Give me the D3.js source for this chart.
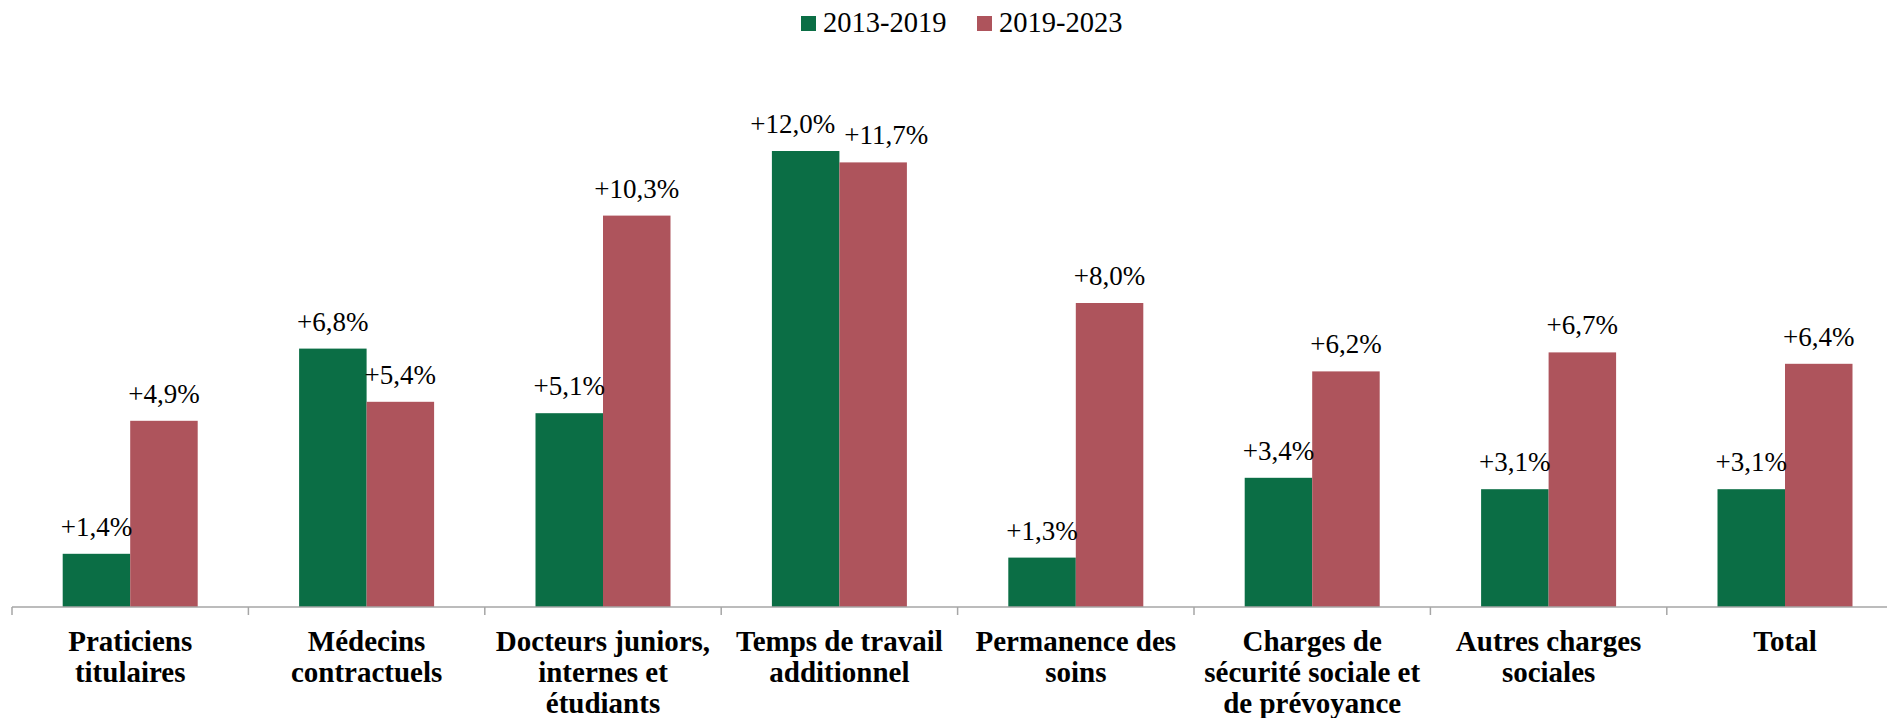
<!DOCTYPE html>
<html>
<head>
<meta charset="utf-8">
<script src="https://cdn.jsdelivr.net/npm/d3@7"></script>
<style>
  body { margin: 0; background: #fff; }
  svg text { font-family: "Liberation Serif", "DejaVu Serif", serif; fill: #000; }
  .cat { font-weight: bold; font-size: 29px; }
  .val { font-size: 27px; }
  .leg { font-size: 28.5px; }
</style>
</head>
<body>
<div id="chart"></div>
<script>
// data
var categories = [
    'Praticiens titulaires',
    'Médecins contractuels',
    'Docteurs juniors, internes et étudiants',
    'Temps de travail additionnel',
    'Permanence des soins',
    'Charges de sécurité sociale et de prévoyance',
    'Autres charges sociales',
    'Total'
];
var catLines = [
    ['Praticiens', 'titulaires'],
    ['Médecins', 'contractuels'],
    ['Docteurs juniors,', 'internes et', 'étudiants'],
    ['Temps de travail', 'additionnel'],
    ['Permanence des', 'soins'],
    ['Charges de', 'sécurité sociale et', 'de prévoyance'],
    ['Autres charges', 'sociales'],
    ['Total']
];
var seriesNames = ['2013-2019', '2019-2023'];
var v2013_2019 = [1.4, 6.8, 5.1, 12.0, 1.3, 3.4, 3.1, 3.1];
var v2019_2023 = [4.9, 5.4, 10.3, 11.7, 8.0, 6.2, 6.7, 6.4];
var colors = ['#0b6e45', '#ae545c'];

var width = 1887, height = 718;
var base = 607, left = 12;

var rows = categories.map(function (c, i) {
    return { cat: c, lines: catLines[i], vals: [v2013_2019[i], v2019_2023[i]] };
});

var svg = d3.select('#chart').append('svg')
    .attr('width', width)
    .attr('height', height);

var x0 = d3.scaleBand()
    .domain(categories)
    .range([left, left + 236.4 * categories.length])
    .paddingInner(0);

var x1 = d3.scaleBand()
    .domain(seriesNames)
    .range([0, 135]);

var y = d3.scaleLinear()
    .domain([0, 14])
    .range([base, base - 14 * 38]);

var fmt = function (v) { return '+' + d3.format('.1f')(v).replace('.', ',') + '%'; };

var groups = svg.selectAll('.grp')
    .data(rows)
    .enter()
    .append('g')
    .attr('class', 'grp')
    .attr('transform', d => 'translate(' + (x0(d.cat) + (x0.bandwidth() - 135) / 2) + ',0)');

groups.selectAll('rect')
    .data(d => d.vals.map((v, j) => ({ s: seriesNames[j], v: v, j: j })))
    .enter()
    .append('rect')
    .attr('x', d => x1(d.s))
    .attr('y', d => y(d.v))
    .attr('width', x1.bandwidth())
    .attr('height', d => base - y(d.v))
    .attr('fill', d => colors[d.j]);

groups.selectAll('.val')
    .data(d => d.vals.map((v, j) => ({ s: seriesNames[j], v: v, j: j })))
    .enter()
    .append('text')
    .attr('class', 'val')
    .attr('text-anchor', 'middle')
    .attr('x', d => x1(d.s) + x1.bandwidth() / 2)
    .attr('y', d => y(d.v) - 18)
    .text(d => fmt(d.v));

// push apart value labels that collide inside a group (like Excel does)
groups.each(function () {
    var t = d3.select(this).selectAll('.val').nodes();
    var a = t[0].getBBox(), b = t[1].getBBox();
    var vOverlap = !(a.y + a.height < b.y || b.y + b.height < a.y);
    var over = a.x + a.width + 9 - b.x;
    if (vOverlap && over > 0) {
        d3.select(t[0]).attr('x', +t[0].getAttribute('x') - over / 2);
        d3.select(t[1]).attr('x', +t[1].getAttribute('x') + over / 2);
    }
});

// x axis
var xAxis = d3.axisBottom(x0).tickSize(0).tickFormat('');
var ax = svg.append('g')
    .attr('transform', 'translate(0,' + base + ')')
    .call(xAxis);
ax.select('.domain').attr('stroke', '#a6a6a6').attr('stroke-width', 1.5).attr('d', 'M' + left + ',0H' + (left + 236.4 * 8));

svg.selectAll('.tk')
    .data(categories)
    .enter()
    .append('line')
    .attr('x1', d => x0(d))
    .attr('x2', d => x0(d))
    .attr('y1', base)
    .attr('y2', base + 8)
    .attr('stroke', '#a6a6a6')
    .attr('stroke-width', 1.5);

var cl = svg.selectAll('.cat')
    .data(rows)
    .enter()
    .append('text')
    .attr('class', 'cat')
    .attr('text-anchor', 'middle')
    .attr('x', d => x0(d.cat) + x0.bandwidth() / 2)
    .attr('y', base + 44);
cl.selectAll('tspan')
    .data(d => d.lines.map(l => ({ l: l, x: x0(d.cat) + x0.bandwidth() / 2 })))
    .enter()
    .append('tspan')
    .attr('x', d => d.x)
    .attr('dy', (d, i) => i === 0 ? 0 : 31)
    .text(d => d.l);

// legend
var legX = [801, 977];
var leg = svg.selectAll('.legi')
    .data(seriesNames)
    .enter()
    .append('g')
    .attr('transform', (d, i) => 'translate(' + legX[i] + ',0)');
leg.append('rect')
    .attr('x', 0).attr('y', 16)
    .attr('width', 15).attr('height', 15)
    .attr('fill', (d, i) => colors[i]);
leg.append('text')
    .attr('class', 'leg')
    .attr('x', 22).attr('y', 32)
    .text(d => d);
</script>
</body>
</html>
